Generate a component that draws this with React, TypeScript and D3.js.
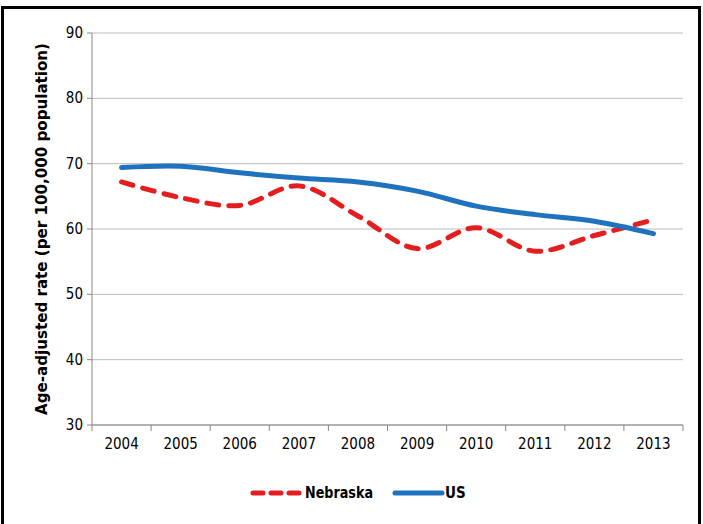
import React from "react";
import * as d3 from "d3";

const years = ["2004", "2005", "2006", "2007", "2008", "2009", "2010", "2011", "2012", "2013"];
const nebraska = [67.2, 64.8, 63.6, 66.6, 62.0, 57.0, 60.2, 56.6, 59.0, 61.4];
const us = [69.4, 69.6, 68.6, 67.8, 67.2, 65.8, 63.5, 62.2, 61.2, 59.3];
const yTicks = [30, 40, 50, 60, 70, 80, 90];

const W = 703, H = 524;
const m = { left: 92, right: 20, top: 33, bottom: 99 };
const font = "'Liberation Sans Narrow', 'DejaVu Sans Condensed', Arial, sans-serif";

export default function App() {
  const x = d3.scaleBand().domain(years).range([m.left, W - m.right]);
  const y = d3.scaleLinear().domain([30, 90]).range([H - m.bottom, m.top]);
  const cx = (d: string) => (x(d) as number) + x.bandwidth() / 2;
  const line = d3.line<number>().x((_, i) => cx(years[i])).y((d) => y(d)).curve(d3.curveCatmullRom);
  const x0 = m.left, x1 = W - m.right, yb = H - m.bottom;
  return (
    <svg width={W} height={H} style={{ position: "absolute", left: 0, top: 0 }} fontFamily={font}>
      <rect x={0} y={0} width={W} height={H} fill="#fff" />
      <rect x={2.5} y={7.5} width={697} height={530} fill="none" stroke="#000" strokeWidth={3} />
      {yTicks.map((t) => (
        <g key={t}>
          <line x1={x0} x2={x1} y1={y(t)} y2={y(t)} stroke="#bbb" strokeWidth={1} />
          <line x1={x0 - 5} x2={x0} y1={y(t)} y2={y(t)} stroke="#888" />
          <text x={x0 - 9} y={y(t) + 5} textAnchor="end" fontSize={15} fill="#000">{t}</text>
        </g>
      ))}
      <line x1={x0} x2={x0} y1={m.top} y2={yb} stroke="#888" />
      <line x1={x0} x2={x1} y1={yb} y2={yb} stroke="#888" />
      {years.map((yr, i) => (
        <g key={yr}>
          <line x1={(x(yr) as number)} x2={(x(yr) as number)} y1={yb} y2={yb + 6} stroke="#888" />
          {i === years.length - 1 && <line x1={x1} x2={x1} y1={yb} y2={yb + 6} stroke="#888" />}
          <text x={cx(yr)} y={yb + 24} textAnchor="middle" fontSize={15}>{yr}</text>
        </g>
      ))}
      <path d={line(nebraska) as string} fill="none" stroke="#e41e1e" strokeWidth={5} strokeDasharray="12 10" strokeLinecap="round" />
      <path d={line(us) as string} fill="none" stroke="#1f72be" strokeWidth={5} strokeLinecap="round" />
      <text transform={`translate(47,${(m.top + yb) / 2}) rotate(-90)`} textAnchor="middle" fontSize={16}
        fontWeight="bold" textLength={372} lengthAdjust="spacingAndGlyphs">
        Age-adjusted rate (per 100,000 population)
      </text>
      <line x1={253} x2={300} y1={493} y2={493} stroke="#e41e1e" strokeWidth={5} strokeDasharray="10 8" strokeLinecap="round" />
      <text x={305} y={498} fontSize={15} fontWeight="bold" textLength={68} lengthAdjust="spacingAndGlyphs">Nebraska</text>
      <line x1={395} x2={442} y1={493} y2={493} stroke="#1f72be" strokeWidth={5} strokeLinecap="round" />
      <text x={445} y={498} fontSize={15} fontWeight="bold">US</text>
    </svg>
  );
}
